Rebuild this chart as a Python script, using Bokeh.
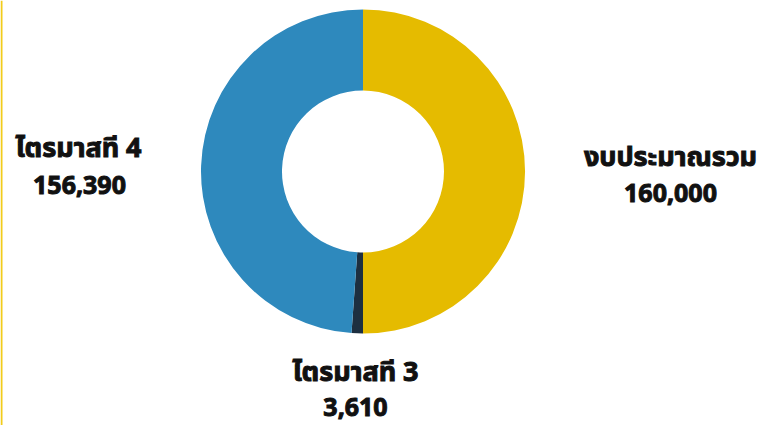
import math
from bokeh.plotting import figure
from bokeh.models import ColumnDataSource, Span
from bokeh.core.properties import value
from bokeh.embed import file_html
from bokeh.resources import INLINE

# ---- data ----
categories = ["งบประมาณรวม", "ไตรมาสที 3", "ไตรมาสที 4"]
values = [160000, 3610, 156390]
value_labels = ["160,000", "3,610", "156,390"]
colors = ["#E5BB00", "#1D2F40", "#2E89BD"]

# ---- layout / style ----
W, H = 765, 425
cx, cy = 362.5, 254.0
r_in, r_out = 81, 162
# label centres (figure pixel coords, y up) for name / value lines
name_pos = [(670, 268), (355, 53), (78, 277)]
val_pos = [(670, 233), (355, 19), (79, 241)]
FONT = "'Noto Sans Thai', 'Noto Sans'"

total = float(sum(values))
starts, ends = [], []
acc = 0.0
for v in values:
    starts.append(math.pi / 2 - acc / total * 2 * math.pi)
    acc += v
    ends.append(math.pi / 2 - acc / total * 2 * math.pi)

src = ColumnDataSource(dict(x=[cx] * 3, y=[cy] * 3, start=starts, end=ends, color=colors))

p = figure(width=W, height=H, x_range=(0, W), y_range=(0, H),
           output_backend="svg", toolbar_location=None, min_border=0)
p.axis.visible = False
p.grid.visible = False
p.outline_line_color = None
p.background_fill_color = "white"

p.add_layout(Span(location=1, dimension="height", line_color="#F2CC1B", line_width=2))

p.annular_wedge(x="x", y="y", inner_radius=r_in, outer_radius=r_out,
                start_angle="start", end_angle="end", direction="clock",
                fill_color="color", line_color=None, source=src)

lab = ColumnDataSource(dict(
    nx=[q[0] for q in name_pos], ny=[q[1] for q in name_pos], name=categories,
    vx=[q[0] for q in val_pos], vy=[q[1] for q in val_pos], val=value_labels))
p.text(x="nx", y="ny", text="name", source=lab, text_align="center",
       text_baseline="middle", text_font=value(FONT), text_font_style="bold",
       text_font_size="27px", text_color="#111111", text_outline_color="#111111")
p.text(x="vx", y="vy", text="val", source=lab, text_align="center",
       text_baseline="middle", text_font=value(FONT), text_font_style="bold",
       text_font_size="25px", text_color="#111111", text_outline_color="#111111")

open("out.html", "w").write(file_html(p, INLINE))
